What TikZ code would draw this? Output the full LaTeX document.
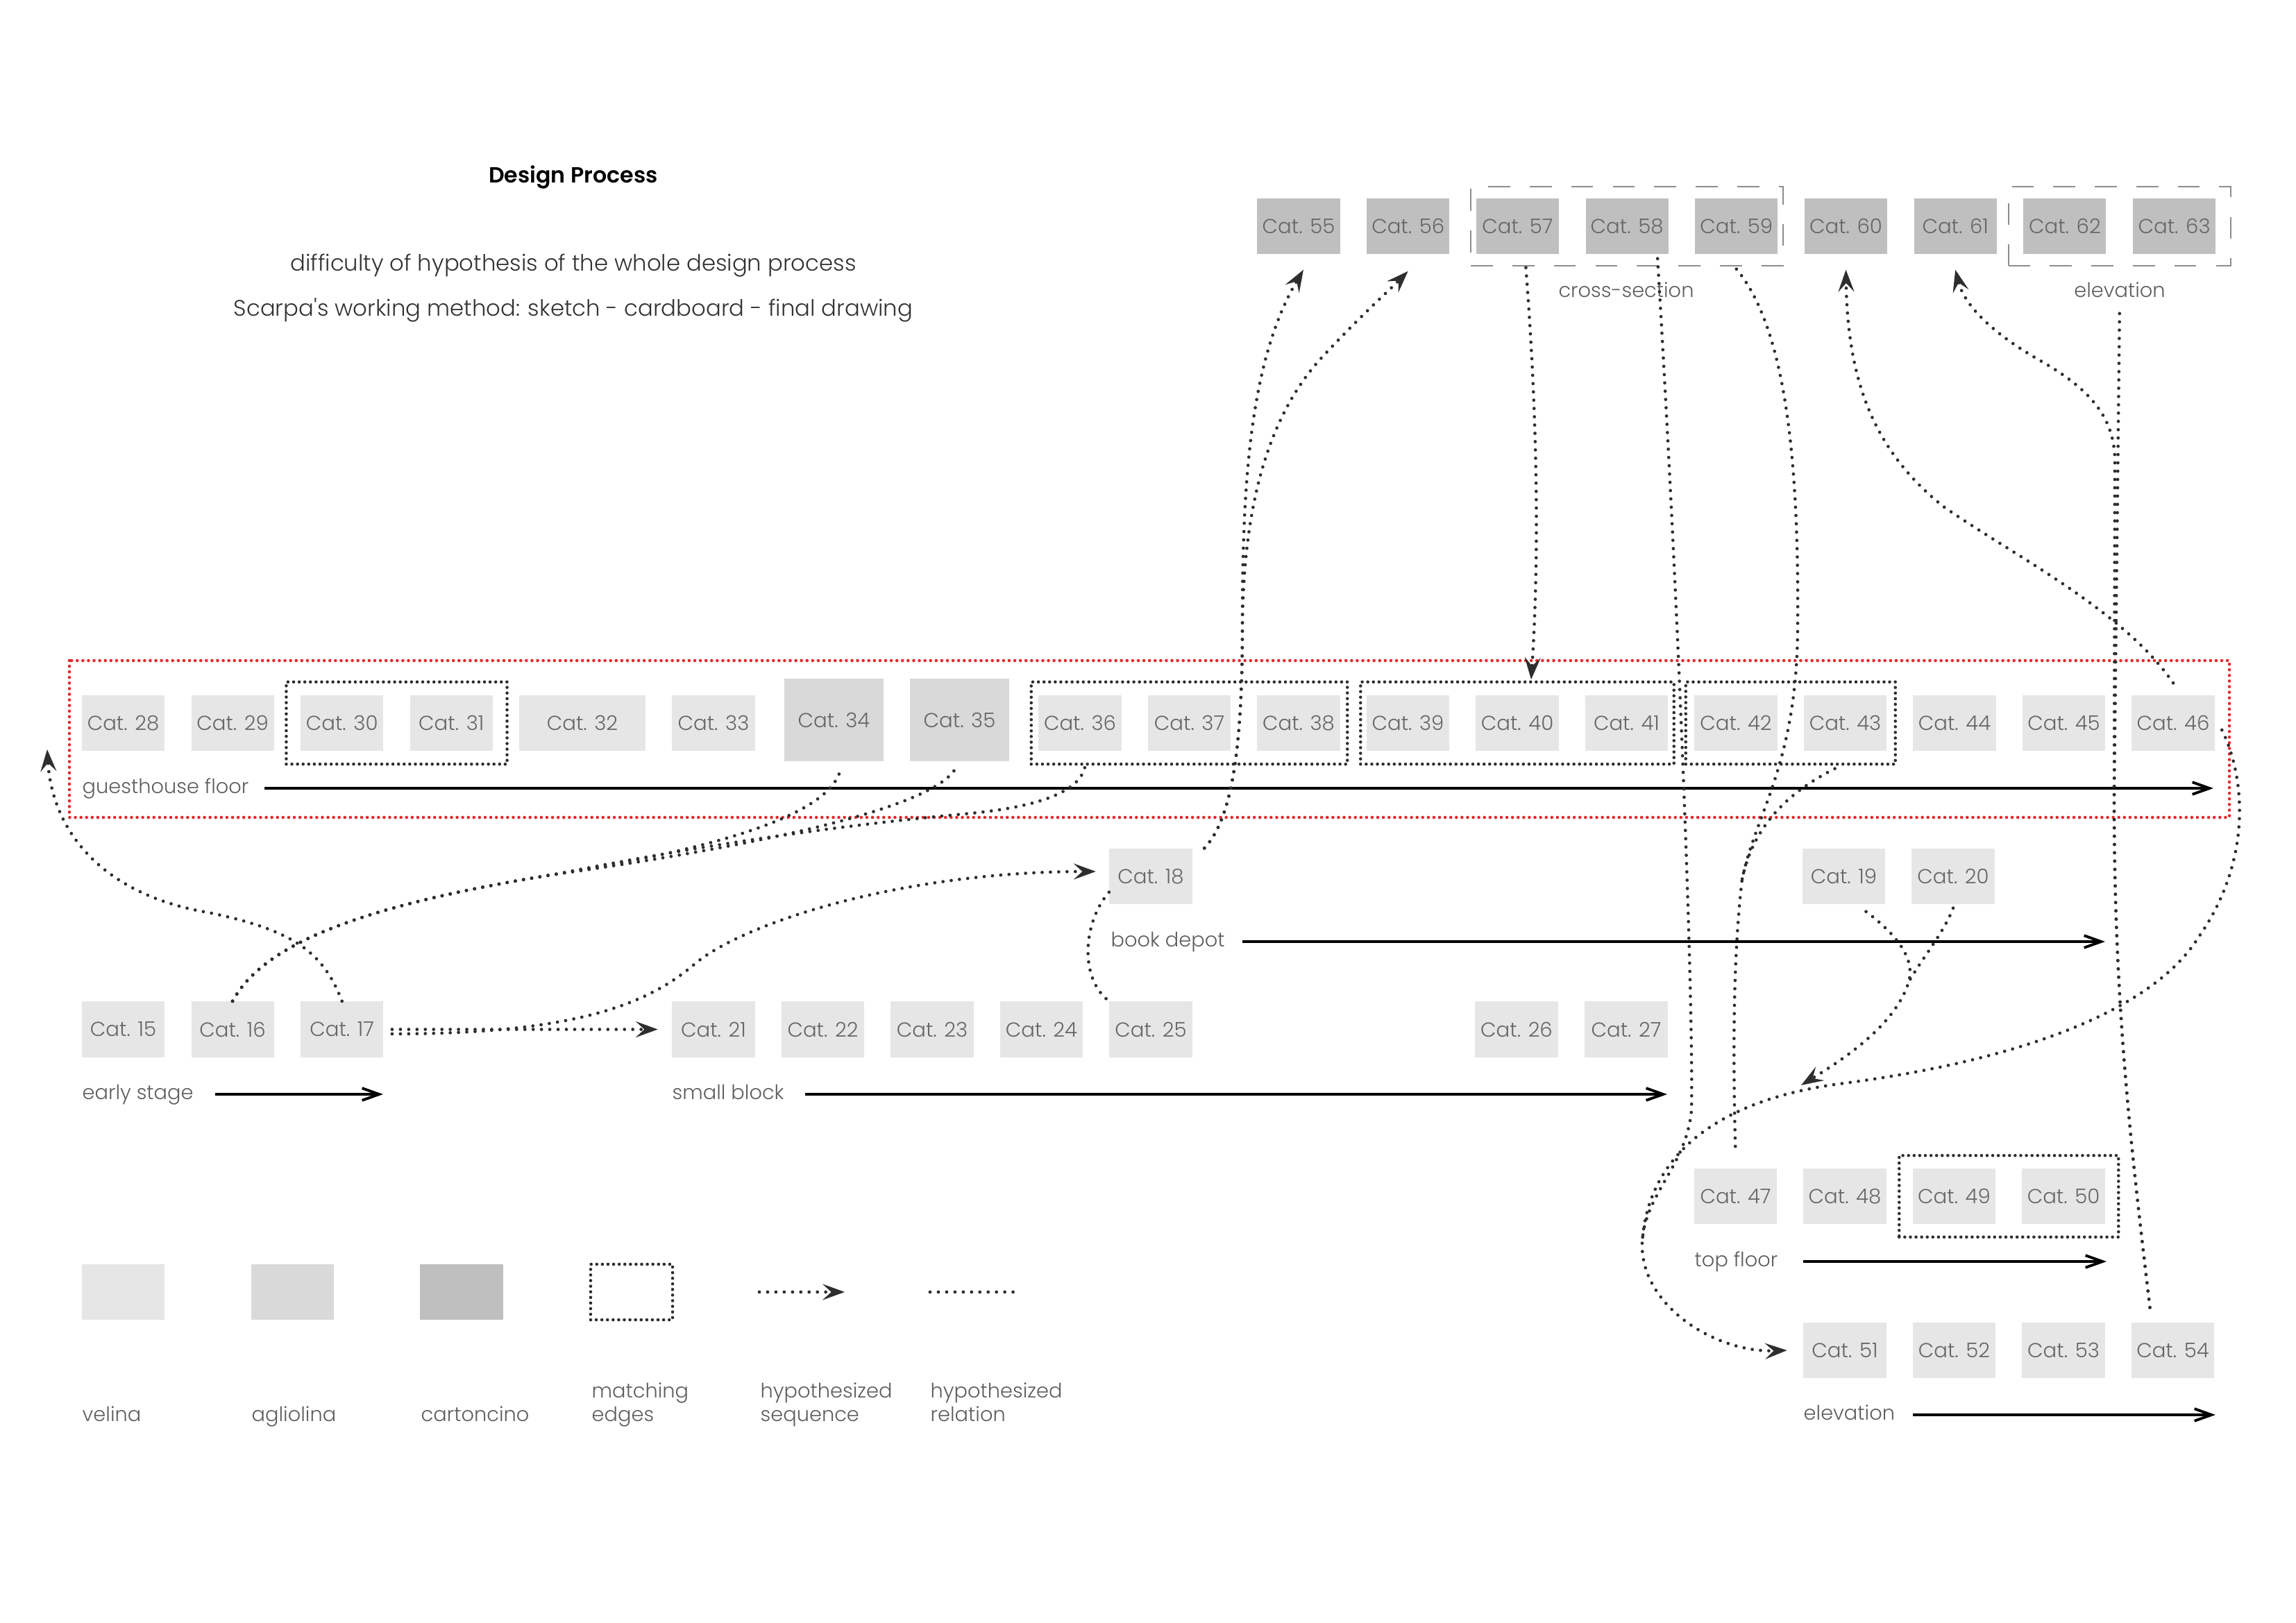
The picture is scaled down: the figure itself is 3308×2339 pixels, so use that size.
\documentclass[tikz,border=0pt]{standalone}
\usepackage{fontspec}
\usetikzlibrary{arrows.meta,fit}
\IfFontExistsTF{Poppins Light}{\newfontfamily\catfont{Poppins Light}}{\newfontfamily\catfont{Poppins}}
\IfFontExistsTF{Poppins SemiBold}{\newfontfamily\titlefont{Poppins SemiBold}}{\newfontfamily\titlefontx{Poppins}\newcommand\titlefont{\titlefontx\bfseries}}

\definecolor{velinagray}{HTML}{E6E6E6}
\definecolor{agliolinagray}{HTML}{D9D9D9}
\definecolor{cartoncinogray}{HTML}{BFBFBF}
\definecolor{catgray}{HTML}{666666}
\definecolor{lblgray}{HTML}{5E5E5E}
\definecolor{subgray}{HTML}{333333}
\definecolor{dotgray}{HTML}{2E2E2E}
\definecolor{groupgray}{HTML}{8C8C8C}
\definecolor{framered}{HTML}{E5282B}

\tikzset{
  cat/.style={rectangle,inner sep=0pt,minimum width=1.19cm,minimum height=0.8cm,text=catgray,font=\catfont\fontsize{8.3}{10}\selectfont},
  velina/.style={cat,fill=velinagray},
  agliolina/.style={cat,fill=agliolinagray},
  cartoncino/.style={cat,fill=cartoncinogray},
  lbl/.style={anchor=base west,inner sep=0pt,text=lblgray,font=\catfont\fontsize{8.2}{9.4}\selectfont},
  sub/.style={anchor=base,inner sep=0pt,text=subgray,font=\catfont\fontsize{9.2}{11}\selectfont},
  matching/.style={rectangle,draw=dotgray,line width=1.3pt,line cap=round,dash pattern=on 0pt off 2.3pt},
  redframe/.style={draw=framered,line width=1.3pt,line cap=round,dash pattern=on 0pt off 2.3pt},
  group/.style={rectangle,draw=groupgray,line width=0.5pt,dash pattern=on 9pt off 8pt},
  rel/.style={draw=dotgray,line width=1.35pt,line cap=round,dash pattern=on 0pt off 3.4pt},
  seq/.style={rel,-{Stealth[length=9pt,width=6.5pt,inset=3.5pt]}},
  flow/.style={draw=black,line width=1.1pt,-{Straight Barb[length=7pt,width=5pt]}},
}

\begin{document}
\begin{tikzpicture}[x=0.01cm,y=-0.01cm]
\useasboundingbox (0,0) rectangle (3308,2339);

% heading
\node[anchor=base,inner sep=0pt,font=\titlefont\fontsize{9}{11}\selectfont] (title) at (826,263) {Design Process};
\node[sub] (sub1) at (826,390) {difficulty of hypothesis of the whole design process};
\node[sub] (sub2) at (826,455) {Scarpa's working method: sketch - cardboard - final drawing};

% cartoncino row
\foreach \n [count=\i from 0] in {55,...,63}{
\node[cartoncino] (c\n) at ({1871+157.7*\i},326) {Cat. \n};
}
\node[group,fit=(c57)(c59),inner xsep=0.07cm,inner ysep=0.16cm] (xsec) {};
\node[group,fit=(c62)(c63),inner xsep=0.21cm,inner ysep=0.16cm] (elev) {};
\node[lbl,anchor=base] (xseclbl) at (2343,428) {cross-section};
\node[lbl,anchor=base] (elevlbl) at (3054,428) {elevation};

% guesthouse floor
\foreach \n [count=\i from 0] in {28,...,31}{
\node[velina] (c\n) at ({177.5+157.6*\i},1042) {Cat. \n};
}
\node[velina,minimum width=1.82cm] (c32) at (839,1042) {Cat. 32};
\node[velina] (c33) at (1028,1042) {Cat. 33};
\node[agliolina,minimum width=1.43cm,minimum height=1.19cm] (c34) at (1201.5,1037.5) {Cat. 34};
\node[agliolina,minimum width=1.43cm,minimum height=1.19cm] (c35) at (1382.5,1037.5) {Cat. 35};
\foreach \n [count=\i from 0] in {36,...,46}{
\node[velina] (c\n) at ({1556+157.5*\i},1042) {Cat. \n};
}
\draw[redframe] (100,952) rectangle (3212,1178);

% early stage, small block
\foreach \n [count=\i from 0] in {15,16,17}{
\node[velina] (c\n) at ({177.5+157.6*\i},1483.5) {Cat. \n};
}
\foreach \n [count=\i from 0] in {21,...,25}{
\node[velina] (c\n) at ({1028+157.5*\i},1483.5) {Cat. \n};
}
\node[velina] (c26) at (2185,1483.5) {Cat. 26};
\node[velina] (c27) at (2343,1483.5) {Cat. 27};

% book depot
\node[velina] (c18) at (1658,1263) {Cat. 18};
\node[velina] (c19) at (2656.5,1263) {Cat. 19};
\node[velina] (c20) at (2814,1263) {Cat. 20};

% top floor, elevation
\foreach \n [count=\i from 0] in {47,...,50}{
\node[velina] (c\n) at ({2500.5+157.5*\i},1724) {Cat. \n};
}
\foreach \n [count=\i from 0] in {51,...,54}{
\node[velina] (c\n) at ({2658+157.5*\i},1946) {Cat. \n};
}

% matching edges
\node[matching,fit=(c30)(c31),inner xsep=0.2cm,inner ysep=0.185cm] (m30) {};
\node[matching,fit=(c36)(c38),inner xsep=0.1cm,inner ysep=0.185cm] (m36) {};
\node[matching,fit=(c39)(c41),inner xsep=0.08cm,inner ysep=0.185cm] (m39) {};
\node[matching,fit=(c42)(c43),inner xsep=0.12cm,inner ysep=0.185cm] (m42) {};
\node[matching,fit=(c49)(c50),inner xsep=0.19cm,inner ysep=0.18cm] (m49) {};

% rows
\foreach \name/\txt/\lx/\ax/\bx/\y in {gh/guesthouse floor/118/381/3189/1136,bd/book depot/1600/1790/3033/1357,es/early stage/118/310/552/1577,sb/small block/968/1160/2402/1577,tf/top floor/2441/2598/3035/1818,el/elevation/2598/2756/3192/2039}{
\node[lbl] (l\name) at (\lx,\y+7) {\txt};
\coordinate (\name1) at (\ax,\y);
\coordinate (\name2) at (\bx,\y);
\draw[flow] (\name1) -- (\name2);
}

% legend
\node[velina] (lv) at (177.5,1862) {};
\node[agliolina] (la) at (421.5,1862) {};
\node[cartoncino] (lc) at (665,1862) {};
\node[matching,minimum width=1.18cm,minimum height=0.8cm,inner sep=0pt] (lm) at (910,1862) {};
\coordinate (ls1) at (1094,1862);
\coordinate (ls2) at (1217,1862);
\draw[seq] (ls1) -- (ls2);
\coordinate (lr1) at (1340,1862);
\coordinate (lr2) at (1463,1862);
\draw[rel] (lr1) -- (lr2);
\foreach \x/\t in {118/velina,362/agliolina,606/cartoncino}{
\node[lbl] at (\x,2048) {\t};
}
\node[lbl,align=left] (lmt) at (852,2048) {matching\\edges};
\node[lbl,align=left] (lst) at (1095,2048) {hypothesized\\sequence};
\node[lbl,align=left] (lrt) at (1340,2048) {hypothesized\\relation};

% free ends
\coordinate (ghin) at (68,1080);
\coordinate (tip19) at (2595,1564);
\coordinate (j19) at (2750,1415);
\coordinate (j47) at (2510,1267);
\coordinate (j51) at (2366,1790);

% hypothesized sequences
\draw[seq] (c17.north) .. controls (465,1370) and (420,1340) .. (300,1315) .. controls (150,1290) and (75,1200) .. (ghin);
\draw[seq,shorten <=0.12cm,shorten >=0.2cm] (c17.east) -- (c21.west);
\draw[seq] ([xshift=0.12cm,yshift=-0.065cm]c17.east) .. controls (820,1490) and (930,1450) .. (1000,1390) .. controls (1070,1330) and (1300,1256) .. ([xshift=-0.19cm,yshift=0.07cm]c18.west);
\draw[seq] ([xshift=0.17cm]c18.north east) .. controls (1775,1180) and (1790,1080) .. (1790,900) .. controls (1790,700) and (1800,520) .. ([shift={(0.07cm,-0.22cm)}]c55.south);
\draw[seq] ([xshift=0.17cm]c18.north east) .. controls (1775,1180) and (1790,1080) .. (1790,900) .. controls (1792,720) and (1830,600) .. (1900,520) .. controls (1960,455) and (2000,420) .. ([yshift=-0.24cm]c56.south);
\draw[seq] ([shift={(0.12cm,-0.19cm)}]c57.south) .. controls (2215,600) and (2218,800) .. ([shift={(0.2cm,0.22cm)}]c40.north);
\draw[seq] ([shift={(0.44cm,-0.06cm)}]c58.south) .. controls (2420,900) and (2440,1450) .. (2437,1600) .. controls (2430,1680) and (2370,1720) .. (j51) .. controls (2362,1880) and (2470,1950) .. ([xshift=-0.23cm]c51.west);
\draw[rel] ([shift={(0.1cm,-0.1cm)}]c46.east) .. controls (3235,1120) and (3245,1240) .. (3168,1350) .. controls (3100,1460) and (2900,1530) .. (2650,1562) .. controls (2480,1585) and (2375,1660) .. (j51);
\draw[seq] ([yshift=0.17cm]c46.north) .. controls (3060,880) and (2900,800) .. (2800,730) .. controls (2700,650) and (2662,550) .. ([yshift=-0.22cm]c60.south);
\draw[seq] ([shift={(-0.33cm,0.21cm)}]c54.north) .. controls (3070,1650) and (3046,1450) .. (3046,1150) -- (3047,660) .. controls (3045,600) and (3010,560) .. (2940,520) .. controls (2870,480) and (2830,440) .. ([yshift=-0.22cm]c61.south);
\draw[seq] ([shift={(0.32cm,-0.1cm)}]c19.south) .. controls (2730,1345) and (2760,1380) .. (j19) .. controls (2730,1480) and (2650,1530) .. (tip19);
\draw[rel] ([yshift=-0.05cm]c20.south) .. controls (2800,1345) and (2770,1380) .. (j19);

% hypothesized relations
\draw[rel] (c16.north) .. controls (380,1360) and (520,1305) .. (800,1260) .. controls (1000,1228) and (1200,1180) .. ([shift={(0.1cm,-0.08cm)}]c34.south);
\draw[rel] (c16.north) .. controls (380,1360) and (520,1305) .. (800,1260) .. controls (1050,1225) and (1340,1170) .. ([shift={(-0.06cm,-0.1cm)}]c35.south);
\draw[rel] (c16.north) .. controls (380,1360) and (520,1305) .. (800,1260) .. controls (1000,1220) and (1200,1190) .. (1400,1172) .. controls (1500,1162) and (1555,1140) .. ([shift={(0.07cm,-0.23cm)}]c36.south);
\draw[rel] ([yshift=0.18cm]c18.south west) .. controls (1560,1330) and (1555,1410) .. (c25.north west);
\draw[rel] ([yshift=-0.21cm]c59.south) .. controls (2570,470) and (2592,650) .. (2590,900) .. controls (2590,1100) and (2530,1170) .. (j47) .. controls (2498,1370) and (2496,1500) .. ([yshift=0.2cm]c47.north);
\draw[rel] ([shift={(-0.15cm,-0.25cm)}]c43.south) .. controls (2590,1135) and (2528,1180) .. (j47);
\draw[rel,shorten >=0.13cm] ([shift={(-0.33cm,0.21cm)}]c54.north) .. controls (3070,1650) and (3046,1450) .. (3046,1150) -- (elevlbl.south);
\end{tikzpicture}
\end{document}
